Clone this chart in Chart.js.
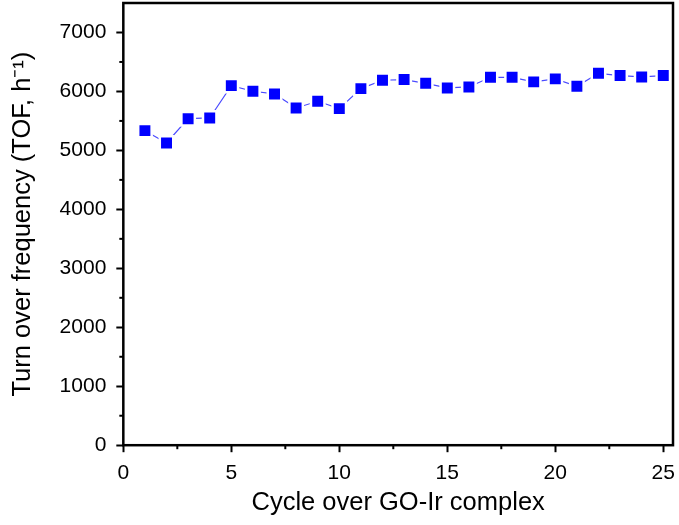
<!DOCTYPE html>
<html>
<head>
<meta charset="utf-8">
<script src="https://cdn.jsdelivr.net/npm/chart.js@4"></script>
<style>
  html, body { margin: 0; padding: 0; background: #fff; }
</style>
</head>
<body>
<canvas id="myChart" width="679" height="525"></canvas>
<script>
// data
const cycles = [1, 2, 3, 4, 5, 6, 7, 8, 9, 10, 11, 12, 13, 14, 15, 16, 17, 18, 19, 20, 21, 22, 23, 24, 25];
const tof = [5335, 5126, 5538, 5550, 6099, 6003, 5958, 5720, 5833, 5709, 6048, 6190, 6201, 6138, 6059,
  6076, 6240, 6240, 6162, 6213, 6088, 6308, 6269, 6246, 6269];

const xTicks = [0, 5, 10, 15, 20, 25];
const xMinor = [2.5, 7.5, 12.5, 17.5, 22.5];
const yTicks = [0, 1000, 2000, 3000, 4000, 5000, 6000, 7000];
const yMinor = [500, 1500, 2500, 3500, 4500, 5500, 6500];

const ctx = document.getElementById('myChart').getContext('2d');
const fontFamily = '"Liberation Sans", Arial, sans-serif';

// box around the plot plus the short minor ticks
const framePlugin = {
  id: 'frame',
  afterDraw(chart) {
    const { ctx, chartArea: a, scales } = chart;
    ctx.save();
    ctx.strokeStyle = '#000';
    ctx.lineWidth = 2;
    xMinor.forEach(v => {
      const x = scales.x.getPixelForValue(v);
      ctx.beginPath();
      ctx.moveTo(x, a.bottom);
      ctx.lineTo(x, a.bottom + 4);
      ctx.stroke();
    });
    yMinor.forEach(v => {
      const y = scales.y.getPixelForValue(v);
      ctx.beginPath();
      ctx.moveTo(a.left, y);
      ctx.lineTo(a.left - 4, y);
      ctx.stroke();
    });
    ctx.lineWidth = 2.5;
    ctx.strokeRect(a.left, a.top, a.right - a.left, a.bottom - a.top);
    ctx.restore();
  }
};

const chart = new Chart(ctx, {
  type: 'line',
  data: {
    datasets: [{
      label: 'TOF',
      data: cycles.map((c, i) => ({ x: c, y: tof[i] })),
      borderColor: '#4b4bff',
      borderWidth: 1.2,
      backgroundColor: '#0000ff',
      pointStyle: 'rect',
      pointRadius: 9.5,
      pointHoverRadius: 9.5,
      pointBackgroundColor: '#0000ff',
      pointBorderColor: '#ffffff',
      pointBorderWidth: 2.5,
      fill: false,
      tension: 0
    }]
  },
  options: {
    responsive: false,
    animation: false,
    layout: { autoPadding: false, padding: { left: 8, right: 6, top: 3, bottom: 7 } },
    plugins: {
      legend: { display: false },
      tooltip: { enabled: false }
    },
    scales: {
      x: {
        type: 'linear',
        min: 0,
        max: 25.45,
        afterBuildTicks: scale => { scale.ticks = xTicks.map(v => ({ value: v })); },
        afterFit: scale => { scale.paddingRight = 0; },
        grid: { display: true, drawOnChartArea: false, tickLength: 7, tickWidth: 2, tickColor: '#000' },
        border: { display: false },
        ticks: {
          color: '#000',
          font: { family: fontFamily, size: 21 },
          padding: 8,
          maxRotation: 0,
          callback: v => String(v)
        },
        title: {
          display: true,
          text: 'Cycle over GO-Ir complex',
          color: '#000',
          font: { family: fontFamily, size: 25.5 },
          padding: { top: -6, bottom: 0 }
        }
      },
      y: {
        min: 0,
        max: 7500,
        afterBuildTicks: scale => { scale.ticks = yTicks.map(v => ({ value: v })); },
        afterFit: scale => { scale.paddingTop = 0; scale.paddingBottom = 0; },
        grid: { display: true, drawOnChartArea: false, tickLength: 7, tickWidth: 2, tickColor: '#000' },
        border: { display: false },
        ticks: {
          color: '#000',
          font: { family: fontFamily, size: 21 },
          padding: 10,
          callback: v => String(v)
        },
        title: {
          display: true,
          text: 'Turn over frequency (TOF, h\u207B\u00B9)',
          color: '#000',
          font: { family: fontFamily, size: 25.5 },
          padding: { top: 0, bottom: 11 }
        }
      }
    }
  },
  plugins: [framePlugin]
});
</script>
</body>
</html>
